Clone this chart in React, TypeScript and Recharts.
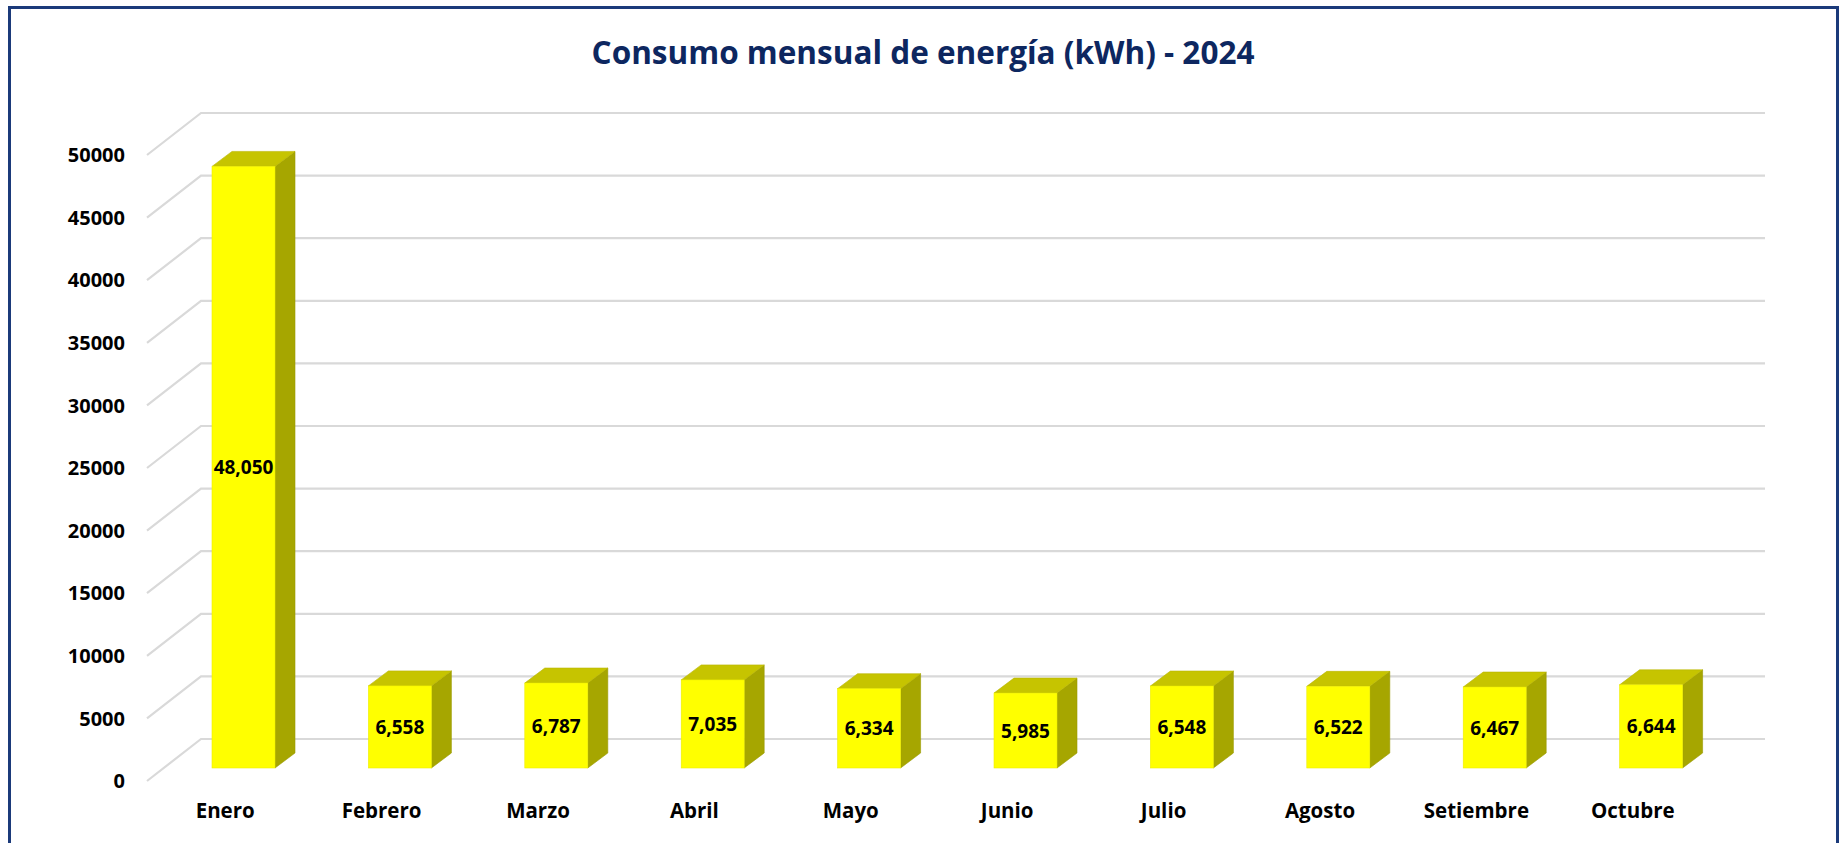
import React from 'react';
import { BarChart, Bar, XAxis, YAxis, CartesianGrid, LabelList } from 'recharts';

const months = ['Enero', 'Febrero', 'Marzo', 'Abril', 'Mayo', 'Junio', 'Julio', 'Agosto', 'Setiembre', 'Octubre'];
const consumo = [48050, 6558, 6787, 7035, 6334, 5985, 6548, 6522, 6467, 6644];
const yTicks = [0, 5000, 10000, 15000, 20000, 25000, 30000, 35000, 40000, 45000, 50000];
const title = 'Consumo mensual de energía (kWh) - 2024';

const data = months.map((m, i) => ({ mes: m, kwh: consumo[i] }));

const FONT = '"Open Sans", sans-serif';
// bar offset from front plane, and bar depth
const BDX = 18;
const BDY = -13;
const DEPTH_X = 20;
const DEPTH_Y = -15;
// back-wall offset of gridlines
const GDX = 54;
const GDY = -42;

const Bar3D = (props: any) => {
  const { x, y, width, height } = props;
  if (height == null || width == null) return null;
  const fx = x + BDX;
  const fy = y + BDY;
  const w = width;
  const h = height;
  const top = `M${fx},${fy} L${fx + w},${fy} L${fx + w + DEPTH_X},${fy + DEPTH_Y} L${fx + DEPTH_X},${fy + DEPTH_Y} Z`;
  const side = `M${fx + w},${fy} L${fx + w + DEPTH_X},${fy + DEPTH_Y} L${fx + w + DEPTH_X},${fy + h + DEPTH_Y} L${fx + w},${fy + h} Z`;
  return (
    <g>
      <path d={side} fill="#A6A600" stroke="#9a9a00" strokeWidth={0.6} />
      <path d={top} fill="#C6C400" stroke="#b8b600" strokeWidth={0.6} />
      <rect x={fx} y={fy} width={w} height={h} fill="#FFFF00" stroke="#eeee00" strokeWidth={0.6} />
    </g>
  );
};

const gridLine = (props: any) => {
  const { x1, y1, x2, index } = props;
  const d = `M${x1},${y1} L${x1 + GDX},${y1 + GDY} L${x2 + GDX},${y1 + GDY}`;
  return <path key={`hg-${index}-${y1}`} d={d} stroke="#d9d9d9" strokeWidth={2.2} fill="none" />;
};

const renderLabel = (props: any) => {
  const { x, y, width, height, value } = props;
  const cx = x + width / 2 + BDX;
  const cy = y + height / 2 + BDY;
  return (
    <text
      x={cx}
      y={cy}
      textAnchor="middle"
      dominantBaseline="central"
      fontFamily={FONT}
      fontWeight={700}
      fontSize={19}
      fill="#000"
    >
      {Number(value).toLocaleString('en-US')}
    </text>
  );
};

export default function App() {
  return (
    <div
      style={{
        position: 'absolute',
        left: 0,
        top: 0,
        width: 1846,
        height: 843,
        overflow: 'hidden',
        background: '#ffffff',
      }}
    >
      <div
        style={{
          position: 'absolute',
          left: 8,
          top: 6,
          width: 1831,
          height: 900,
          border: '3px solid #1b3a7a',
          boxSizing: 'border-box',
        }}
      />
      <div
        style={{
          position: 'absolute',
          left: 0,
          top: 32,
          width: 1846,
          textAlign: 'center',
          fontFamily: FONT,
          fontWeight: 700,
          fontSize: 31.5,
          lineHeight: '40px',
          color: '#0d2760',
        }}
      >
        {title}
      </div>
      <div style={{ position: 'absolute', left: 0, top: 0 }}>
        <BarChart
          width={1846}
          height={843}
          data={data}
          margin={{ top: 155, right: 135, bottom: 0, left: 0 }}
        >
          <CartesianGrid vertical={false} horizontal={gridLine} />
          <XAxis
            dataKey="mes"
            height={62}
            axisLine={false}
            tickLine={false}
            tickSize={0}
            tickMargin={22}
            interval={0}
            tick={{ fontFamily: FONT, fontWeight: 700, fontSize: 20.5, fill: '#000' }}
          />
          <YAxis
            width={147}
            domain={[0, 50000]}
            ticks={yTicks}
            interval={0}
            axisLine={false}
            tickLine={false}
            tickSize={0}
            tickMargin={22}
            tick={{ fontFamily: FONT, fontWeight: 700, fontSize: 20, fill: '#000' }}
          />
          <Bar dataKey="kwh" barSize={63} shape={Bar3D} isAnimationActive={false}>
            <LabelList dataKey="kwh" content={renderLabel} />
          </Bar>
        </BarChart>
      </div>
    </div>
  );
}
